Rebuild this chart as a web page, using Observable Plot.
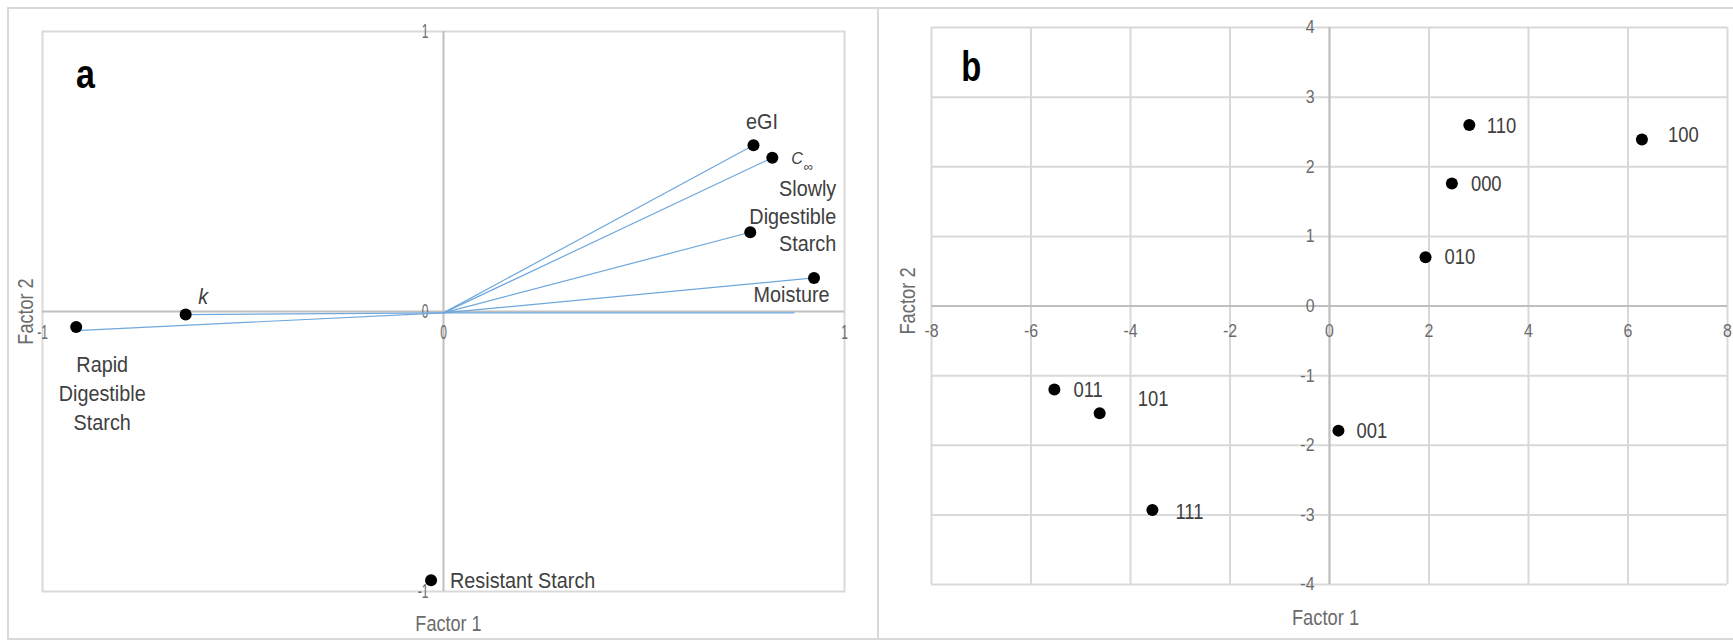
<!DOCTYPE html>
<html><head><meta charset="utf-8">
<script src="https://cdn.jsdelivr.net/npm/d3@7"></script>
<script src="https://cdn.jsdelivr.net/npm/@observablehq/plot@0.6"></script>
<style>
body{margin:0;background:#fff;}
#wrap{position:relative;width:1733px;height:640px;overflow:hidden;font-family:"Liberation Sans",Arial,sans-serif;}
.panel{position:absolute;top:0;}
.border{position:absolute;border:2px solid #d9d9d9;box-sizing:border-box;}
</style></head><body>
<div id="wrap"></div>
<script>
// ---------- Panel a data: factor loadings ----------
const varNames = ["eGI", "C∞", "Slowly Digestible Starch", "Moisture", "k", "Rapid Digestible Starch", "Resistant Starch"];
const factor1Loadings = [0.773, 0.820, 0.765, 0.924, -0.643, -0.916, -0.031];
const factor2Loadings = [0.594, 0.549, 0.283, 0.120, -0.011, -0.055, -0.960];
// loading vectors drawn from the origin
const vectorEndX = [0.773, 0.820, 0.765, 0.924, -0.643, -0.916, 0.875];
const vectorEndY = [0.594, 0.549, 0.283, 0.120, -0.011, -0.068, -0.005];
const ticksA = [-1, 0, 1];

// ---------- Panel b data: factor scores ----------
const treatments = ["110", "100", "000", "010", "011", "101", "001", "111"];
const score1 = [2.81, 6.28, 2.46, 1.93, -5.53, -4.62, 0.18, -3.56];
const score2 = [2.60, 2.39, 1.76, 0.70, -1.20, -1.54, -1.79, -2.93];
const xTicksB = [-8, -6, -4, -2, 0, 2, 4, 6, 8];
const yTicksB = [-4, -3, -2, -1, 0, 1, 2, 3, 4];

const axisTitles = ["Factor 1", "Factor 2"];
const panelLetters = ["a", "b"];

// ---------- build tables ----------
const pointsA = varNames.map((name, i) => ({name, x: factor1Loadings[i], y: factor2Loadings[i]}));
const vectors = vectorEndX.map((x, i) => ({x, y: vectorEndY[i]}));
const pointsB = treatments.map((name, i) => ({name, x: score1[i], y: score2[i]}));

const FONT = "'Liberation Sans', Arial, sans-serif";
const LABEL = "#404040";
const TICK = "#6b6b6b";
const wrap = document.getElementById("wrap");

function addBorder(l, t, w, h) {
  const d = document.createElement("div");
  d.className = "border";
  Object.assign(d.style, {left: l + "px", top: t + "px", width: w + "px", height: h + "px"});
  wrap.appendChild(d);
}
function condense(svg, map) {
  svg.querySelectorAll("g[font-size]").forEach(g => {
    const s = map[g.getAttribute("font-size")];
    if (!s) return;
    g.querySelectorAll(":scope > text").forEach(t => {
      t.setAttribute("transform", (t.getAttribute("transform") || "") + ` scale(${s},1)`);
    });
  });
}
function place(node, left) {
  const d = document.createElement("div");
  d.className = "panel";
  d.style.left = left + "px";
  d.appendChild(node);
  wrap.appendChild(d);
}

addBorder(7, 7, 872, 633);
addBorder(877, 7, 870, 633);

// ---------- Panel a ----------
const placeA = {
  "eGI": {dx: 8.5, dy: -23.5, anchor: "middle"},
  "Slowly Digestible Starch": {dx: 86, dy: -17.5, anchor: "end", lh: 1.22, wrap: true},
  "Moisture": {dx: 15.5, dy: 16.5, anchor: "end"},
  "k": {dx: 17.5, dy: -18, anchor: "middle", italic: true},
  "Rapid Digestible Starch": {dx: 26, dy: 65, anchor: "middle", lh: 1.28, wrap: true},
  "Resistant Starch": {dx: 19, dy: 0, anchor: "start"}
};
const labelMarksA = Object.entries(placeA).map(([name, p]) =>
  Plot.text(pointsA.filter(d => d.name === name), {
    x: "x", y: "y", text: d => p.wrap ? d.name.replace(/ /g, "\n") : d.name,
    dx: p.dx, dy: p.dy, textAnchor: p.anchor, lineHeight: p.lh || 1,
    fontSize: 22.5, fill: LABEL, fontStyle: p.italic ? "italic" : "normal"
  })
);
const cInf = pointsA.filter(d => d.name === "C∞");

const plotA = Plot.plot({
  width: 877, height: 640,
  marginLeft: 42, marginRight: 33, marginTop: 31, marginBottom: 49,
  x: {domain: [-1, 1], axis: null},
  y: {domain: [-1, 1], axis: null},
  style: {fontFamily: FONT, background: "transparent", overflow: "visible"},
  marks: [
    Plot.frame({stroke: "#d9d9d9", strokeWidth: 2}),
    Plot.ruleX([0], {stroke: "#bfbfbf", strokeWidth: 2}),
    Plot.ruleY([0], {stroke: "#bfbfbf", strokeWidth: 2}),
    Plot.text(ticksA, {x: () => 0, y: d => d, text: d => String(d), textAnchor: "end", dx: -15, fontSize: 20, fill: TICK}),
    Plot.text(ticksA, {x: d => d, y: () => 0, text: d => String(d), dy: 21, fontSize: 20, fill: TICK}),
    Plot.link(vectors, {x1: () => 0, y1: () => -0.005, x2: "x", y2: "y", stroke: "#6fa8dc", strokeWidth: 1.2}),
    Plot.dot(pointsA, {x: "x", y: "y", r: 6, fill: "black"}),
    ...labelMarksA,
    Plot.text(cInf, {x: "x", y: "y", text: d => d.name.slice(0, 1), dx: 19, dy: 1, textAnchor: "start", fontSize: 17, fontStyle: "italic", fill: LABEL}),
    Plot.text(cInf, {x: "x", y: "y", text: d => d.name.slice(1), dx: 31.5, dy: 9, textAnchor: "start", fontSize: 13, fill: LABEL}),
    Plot.text([axisTitles[0]], {x: () => 0, y: () => -1, text: d => d, dx: 5, dy: 33, fontSize: 21.8, fill: TICK}),
    Plot.text([axisTitles[1]], {x: () => -1, y: () => 0, text: d => d, rotate: -90, dx: -16.5, dy: 0, fontSize: 21.8, fill: TICK}),
    Plot.text([panelLetters[0]], {frameAnchor: "top-left", text: d => d, dx: 43, dy: 44, textAnchor: "middle", lineAnchor: "middle", fontSize: 40, fontWeight: "bold", fill: "black"})
  ]
});
condense(plotA, {"22.5": 0.88, "20": 0.6, "21.8": 0.83, "40": 0.85, "17": 0.95});
place(plotA, 0);

// ---------- Panel b ----------
const placeB = {
  "110": {dx: 17.5, dy: 1},
  "100": {dx: 26, dy: -5},
  "000": {dx: 19, dy: 0},
  "010": {dx: 19, dy: 0},
  "011": {dx: 19, dy: 0},
  "101": {dx: 38, dy: -14},
  "001": {dx: 18, dy: 0},
  "111": {dx: 23, dy: 2}
};
const labelMarksB = pointsB.map(pt =>
  Plot.text([pt], {x: "x", y: "y", text: "name", dx: placeB[pt.name].dx, dy: placeB[pt.name].dy,
    textAnchor: "start", fontSize: 22.2, fill: LABEL})
);

const plotB = Plot.plot({
  width: 856, height: 640,
  marginLeft: 54, marginRight: 6, marginTop: 27, marginBottom: 56,
  x: {domain: [-8, 8], axis: null},
  y: {domain: [-4, 4], axis: null},
  style: {fontFamily: FONT, background: "transparent", overflow: "visible"},
  marks: [
    Plot.ruleX(xTicksB, {stroke: "#d9d9d9", strokeWidth: 2}),
    Plot.ruleY(yTicksB, {stroke: "#d9d9d9", strokeWidth: 2}),
    Plot.ruleX([0], {stroke: "#bfbfbf", strokeWidth: 2}),
    Plot.ruleY([0], {stroke: "#bfbfbf", strokeWidth: 2}),
    Plot.text(yTicksB, {x: () => 0, y: d => d, text: d => String(d), textAnchor: "end", dx: -15, fontSize: 18.5, fill: TICK}),
    Plot.text(xTicksB, {x: d => d, y: () => 0, text: d => String(d), dy: 25, fontSize: 18.5, fill: TICK}),
    Plot.dot(pointsB, {x: "x", y: "y", r: 6, fill: "black"}),
    ...labelMarksB,
    Plot.text([axisTitles[0]], {x: () => 0, y: () => -4, text: d => d, dx: -4, dy: 34, fontSize: 21.8, fill: TICK}),
    Plot.text([axisTitles[1]], {x: () => -8, y: () => 0, text: d => d, rotate: -90, dx: -23.5, dy: -5, fontSize: 21.8, fill: TICK}),
    Plot.text([panelLetters[1]], {frameAnchor: "top-left", text: d => d, dx: 39.7, dy: 39.6, textAnchor: "middle", lineAnchor: "middle", fontSize: 42, fontWeight: "bold", fill: "black"})
  ]
});
condense(plotB, {"22.2": 0.83, "18.5": 0.86, "21.8": 0.84, "42": 0.78});
place(plotB, 877);
</script>
</body></html>
